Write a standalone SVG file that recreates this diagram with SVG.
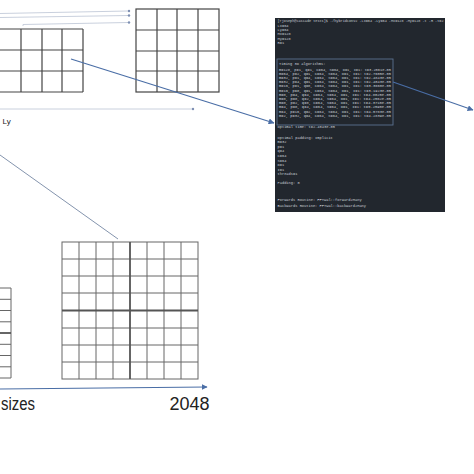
<svg xmlns="http://www.w3.org/2000/svg" width="474" height="474" viewBox="0 0 474 474">
<style>
.grid{fill:none;stroke:#444;stroke-width:1.2}
.grid2{fill:none;stroke:#666;stroke-width:1}
.thick{stroke:#555;stroke-width:1.8}
.thin{fill:none;stroke:#c3cbd9;stroke-width:0.9}
.dot{fill:#7d8fb3}
.arrow{fill:none;stroke:#4a6ea6;stroke-width:1.1}
.gl{fill:none;stroke:#8494ad;stroke-width:1}
.term{font-family:"Liberation Mono","DejaVu Sans Mono",monospace;font-size:3.7px;fill:#c6ccd4}
.lbl{font-family:"Liberation Sans",Arial,sans-serif;fill:#222}
</style>
<defs>
<marker id="ah" viewBox="0 0 10 10" refX="9" refY="5" markerWidth="6" markerHeight="6" orient="auto" markerUnits="userSpaceOnUse">
<path d="M0,0 L10,5 L0,10 z" fill="#4a6ea6"/>
</marker>
</defs>
<rect width="474" height="474" fill="#fff"/>

<g id="grid-left-top">
<path class="grid" d="M0,29 H83 M0,50 H83 M0,71 H83 M0,92 H83 M21,29 V92 M42,29 V92 M62,29 V92 M83,29 V92"/>
</g>

<g id="grid-right-top">
<rect class="grid" x="136" y="9" width="83" height="83"/>
<path class="grid" d="M157,9 V92 M177,9 V92 M198,9 V92 M136,30 H219 M136,51 H219 M136,71 H219"/>
</g>

<g id="terminal">
<rect x="275" y="18" width="170" height="194" fill="#22272e"/>
<rect x="277" y="59" width="116" height="66" fill="none" stroke="#5b7190" stroke-width="0.9"/>
<text class="term" x="277.5" y="22" textLength="166" lengthAdjust="spacingAndGlyphs">[rjoseph@cascade tests]$ ./hybridconv2 -Lx=64 -Ly=64 -Mx=128 -My=128 -t -R -t=2</text>
<text class="term" x="277.5" y="26.5">Lx=64</text>
<text class="term" x="277.5" y="30.5">Ly=64</text>
<text class="term" x="277.5" y="35">Mx=128</text>
<text class="term" x="277.5" y="39.5">My=128</text>
<text class="term" x="277.5" y="44">R=1</text>
<text class="term" x="279" y="65">Timing 3D algorithms:</text>
<text class="term" x="279" y="70.5" textLength="112" lengthAdjust="spacingAndGlyphs">m=128, p=1, q=1, C=64, S=64, D=1, I=1: t=3.2061e-05</text>
<text class="term" x="279" y="74.7" textLength="112" lengthAdjust="spacingAndGlyphs">m=64, p=2, q=1, C=64, S=64, D=1, I=1: t=2.7605e-05</text>
<text class="term" x="279" y="78.9" textLength="112" lengthAdjust="spacingAndGlyphs">m=32, p=1, q=4, C=64, S=64, D=1, I=1: t=2.4843e-05</text>
<text class="term" x="279" y="83.1" textLength="112" lengthAdjust="spacingAndGlyphs">m=32, p=4, q=1, C=64, S=64, D=1, I=1: t=2.4043e-05</text>
<text class="term" x="279" y="87.3" textLength="112" lengthAdjust="spacingAndGlyphs">m=16, p=1, q=8, C=64, S=64, D=1, I=1: t=3.3660e-05</text>
<text class="term" x="279" y="91.5" textLength="112" lengthAdjust="spacingAndGlyphs">m=16, p=8, q=1, C=64, S=64, D=1, I=1: t=3.1923e-05</text>
<text class="term" x="279" y="95.7" textLength="112" lengthAdjust="spacingAndGlyphs">m=8, p=4, q=4, C=64, S=64, D=1, I=1: t=4.8025e-05</text>
<text class="term" x="279" y="99.9" textLength="112" lengthAdjust="spacingAndGlyphs">m=8, p=8, q=2, C=64, S=64, D=1, I=1: t=4.2562e-05</text>
<text class="term" x="279" y="104.1" textLength="112" lengthAdjust="spacingAndGlyphs">m=8, p=2, q=8, C=64, S=64, D=1, I=1: t=4.3710e-05</text>
<text class="term" x="279" y="108.3" textLength="112" lengthAdjust="spacingAndGlyphs">m=4, p=8, q=4, C=64, S=64, D=1, I=1: t=5.2590e-05</text>
<text class="term" x="279" y="112.5" textLength="112" lengthAdjust="spacingAndGlyphs">m=4, p=16, q=2, C=64, S=64, D=1, I=1: t=4.5783e-05</text>
<text class="term" x="279" y="116.7" textLength="112" lengthAdjust="spacingAndGlyphs">m=2, p=32, q=4, C=64, S=64, D=1, I=1: t=4.2839e-05</text>
<text class="term" x="277.5" y="128">Optimal time: t=2.4043e-05</text>
<text class="term" x="277.5" y="138.5">Optimal padding: Implicit</text>
<text class="term" x="277.5" y="143.3">m=32</text>
<text class="term" x="277.5" y="147.8">p=1</text>
<text class="term" x="277.5" y="152.3">q=4</text>
<text class="term" x="277.5" y="156.8">C=64</text>
<text class="term" x="277.5" y="161.5">S=64</text>
<text class="term" x="277.5" y="166">D=1</text>
<text class="term" x="277.5" y="170.6">I=1</text>
<text class="term" x="277.5" y="175.2">threads=1</text>
<text class="term" x="277.5" y="184">Padding: 0</text>
<text class="term" x="277.5" y="201">Forwards Routine: FFTWal::forward2Many</text>
<text class="term" x="277.5" y="206.5">Backwards Routine: FFTWal::backward2Many</text>
</g>

<g id="grid-big">
<rect class="grid2" x="62" y="242" width="136" height="137"/>
<path class="grid2" d="M79,242 V379 M96,242 V379 M113,242 V379 M147,242 V379 M164,242 V379 M181,242 V379 M62,259 H198 M62,276 H198 M62,293 H198 M62,328 H198 M62,345 H198 M62,362 H198"/>
<path class="thick" d="M130,242 V379 M62,310.5 H198"/>
</g>

<g id="grid-small">
<path class="grid2" d="M11,288 V378 M0,288 H11 M0,299.3 H11 M0,310.5 H11 M0,321.8 H11 M0,344.3 H11 M0,355.5 H11 M0,366.8 H11 M0,378 H11"/>
<path class="thick" d="M0,333 H11"/>
</g>

<g id="labels">
<text class="lbl" x="2.5" y="124" font-size="8">Ly</text>
<text class="lbl" x="1" y="410" font-size="18" textLength="34" lengthAdjust="spacingAndGlyphs">sizes</text>
<text class="lbl" x="169.5" y="410" font-size="18">2048</text>
</g>

<g id="connectors">
<path class="thin" d="M0,13.5 L128,11"/>
<path class="thin" d="M0,17.5 L128,15.5"/>
<path class="thin" d="M23,26 V24.5 L128,22.5"/>
<path class="thin" d="M0,109 H193"/>
<circle class="dot" cx="129" cy="11" r="1.2"/>
<circle class="dot" cx="129" cy="15.5" r="1.2"/>
<circle class="dot" cx="129" cy="22.5" r="1.2"/>
<circle class="dot" cx="193" cy="109" r="1.2"/>
<path class="arrow" d="M71,59 L274,123" marker-end="url(#ah)"/>
<path class="arrow" d="M393,82 L473,110" marker-end="url(#ah)"/>
<path class="gl" d="M0,155 L118,239"/>
<path class="arrow" d="M0,389 L207,387" marker-end="url(#ah)"/>
</g>
</svg>
